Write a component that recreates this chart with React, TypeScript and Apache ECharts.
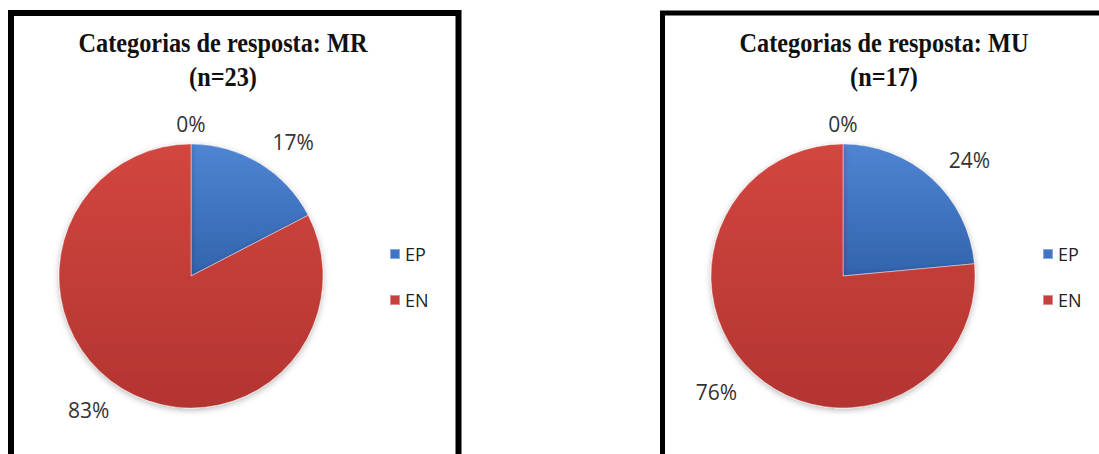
import React, { useEffect, useRef } from "react";
import * as echarts from "echarts";

// ---- data ----
const categories = ["EP", "EN", "Outro"];
const mrValues = [4, 19, 0];
const muValues = [4, 13, 0];
const legendItems = ["EP", "EN"];
const mrTitle = ["Categorias de resposta: MR", "(n=23)"];
const muTitle = ["Categorias de resposta: MU", "(n=17)"];

const W = 1099;
const H = 454;

const sliceColors = [
  new echarts.graphic.LinearGradient(0, 0, 0, 1, [
    { offset: 0, color: "#4f85d3" },
    { offset: 1, color: "#3263ad" },
  ]),
  new echarts.graphic.LinearGradient(0, 0, 0, 1, [
    { offset: 0, color: "#d2463f" },
    { offset: 1, color: "#b33431" },
  ]),
  "#9bbb59",
];
const legendColors = ["#3f74c2", "#c7403d"];

function pie(values: number[], cx: number) {
  return {
    type: "pie",
    center: [cx, 276],
    radius: 132,
    startAngle: 90,
    clockwise: true,
    percentPrecision: 0,
    silent: true,
    data: categories.map((n, i) => ({
      name: n,
      value: values[i],
      itemStyle: { color: sliceColors[i] },
    })),
    itemStyle: {
      borderColor: "rgba(255,255,255,0.4)",
      borderWidth: 1,
      shadowBlur: 6,
      shadowOffsetY: 2,
      shadowColor: "rgba(0,0,0,0.28)",
    },
    label: {
      show: true,
      position: "outside",
      formatter: "{d}%",
      fontFamily: "Open Sans",
      fontSize: 21,
      color: "#333333",
      distanceToLabelLine: 0,
    },
    labelLine: { show: false, length: 25, length2: 0 },
    labelLayout: (p: any) => (p.dataIndex === 2 ? { align: "center", dy: 5 } : {}),
    emphasis: { disabled: true },
  };
}

function legend(left: number) {
  return {
    orient: "vertical",
    left,
    top: 240,
    itemWidth: 10,
    itemHeight: 10,
    itemGap: 28,
    icon: "rect",
    selectedMode: false,
    textStyle: { fontFamily: "Open Sans", fontSize: 18, color: "#222" },
    data: legendItems.map((n, i) => ({ name: n, itemStyle: { color: legendColors[i] } })),
  };
}

function titleTexts(lines: string[], cx: number) {
  return lines.map((t, i) => ({
    type: "text",
    x: cx,
    y: i === 0 ? 43 : 77,
    scaleX: 0.9,
    style: {
      text: t,
      fontFamily: "Liberation Serif",
      fontWeight: "bold",
      fontSize: 27,
      fill: "#111",
      align: "center",
      verticalAlign: "middle",
    },
  }));
}

export default function App() {
  const ref = useRef<HTMLDivElement>(null);
  useEffect(() => {
    const chart = echarts.init(ref.current!, undefined, { renderer: "svg" });
    chart.setOption({
      animation: false,
      backgroundColor: "#ffffff",
      legend: [legend(384), legend(1037)],
      graphic: [
        {
          type: "rect",
          shape: { x: 11, y: 13, width: 447.5, height: 470 },
          style: { fill: "none", stroke: "#000", lineWidth: 6 },
        },
        {
          type: "rect",
          shape: { x: 662.5, y: 13, width: 500, height: 470 },
          style: { fill: "none", stroke: "#000", lineWidth: 5 },
        },
        ...titleTexts(mrTitle, 223),
        ...titleTexts(muTitle, 884),
      ],
      series: [pie(mrValues, 191), pie(muValues, 843)],
    });
    return () => chart.dispose();
  }, []);
  return (
    <div
      ref={ref}
      style={{ position: "fixed", left: 0, top: 0, width: W, height: H, background: "#fff" }}
    />
  );
}
